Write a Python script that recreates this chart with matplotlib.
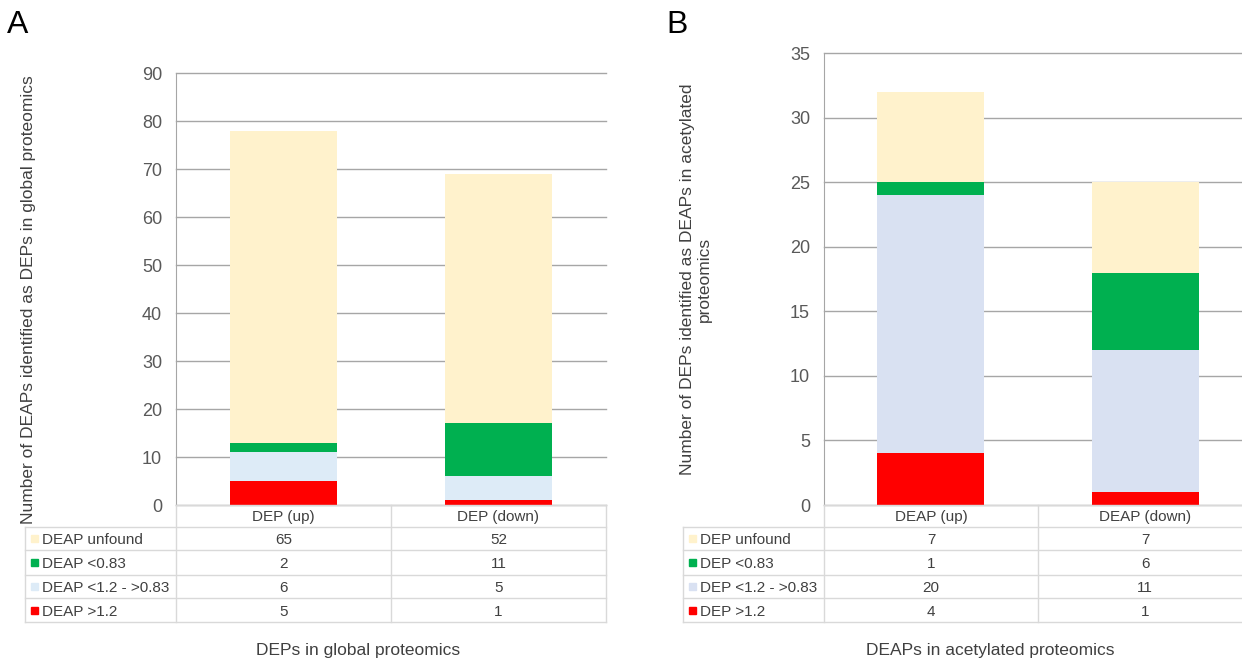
import matplotlib
matplotlib.use("Agg")
import matplotlib.pyplot as plt
from matplotlib.lines import Line2D
from matplotlib.patches import Rectangle
from matplotlib.transforms import blended_transform_factory

plt.rcParams['font.family'] = ['Liberation Sans', 'DejaVu Sans']

W, H = 1242, 658

# panel A: global proteomics
groups_a = ['DEP (up)', 'DEP (down)']
series_a = ['DEAP unfound', 'DEAP <0.83', 'DEAP <1.2 - >0.83', 'DEAP >1.2']
unfound_a = [65, 52]
low_a = [2, 11]
mid_a = [6, 5]
high_a = [5, 1]

# panel B: acetylated proteomics
groups_b = ['DEAP (up)', 'DEAP (down)']
series_b = ['DEP unfound', 'DEP <0.83', 'DEP <1.2 - >0.83', 'DEP >1.2']
unfound_b = [7, 7]
low_b = [1, 6]
mid_b = [20, 11]
high_b = [4, 1]

cream = '#FFF2CC'
green = '#00B050'
red = '#FF0000'

grid_c = '#a6a6a6'
tab_c = '#d9d9d9'
txt_c = '#404040'

fig = plt.figure(figsize=(W / 100, H / 100), dpi=100)


def fx(x):
    return x / W


def fy(y):
    return 1 - y / H


def hline(x0, x1, y, color=tab_c):
    fig.add_artist(Line2D([fx(x0), fx(x1)], [fy(y), fy(y)], color=color, lw=1))


def vline(x, y0, y1, color=tab_c):
    fig.add_artist(Line2D([fx(x), fx(x)], [fy(y0), fy(y1)], color=color, lw=1))


def panel(left, right, top, ymax, step, groups, names, vals, colors,
          tab_left, ylabel, ylab_x, ylab_y, xlabel, xlab_x, letter, letter_x):
    ax = fig.add_axes([fx(left), fy(505), fx(right - left), (505 - top) / H])
    x = range(len(groups))
    # stack from the bottom: >1.2, middle band, <0.83, unfound
    bottom = [0] * len(groups)
    for i in range(len(vals) - 1, -1, -1):
        ax.bar(x, vals[i], 0.5, bottom=bottom, color=colors[i], zorder=3)
        bottom = [b + v for b, v in zip(bottom, vals[i])]
    ax.set_xlim(-0.5, len(groups) - 0.5)
    ax.set_ylim(0, ymax)
    ax.set_yticks(range(0, ymax + 1, step))
    ax.yaxis.grid(True, color=grid_c, lw=1, zorder=0)
    for gl in ax.get_ygridlines():
        gl.set_clip_on(False)
    ax.set_xticks([])
    for s in ['top', 'right', 'bottom']:
        ax.spines[s].set_visible(False)
    ax.spines['left'].set_color(grid_c)
    ax.tick_params(axis='y', length=0, pad=10, labelsize=13, labelcolor='#595959')

    # data table under the bars
    tr = blended_transform_factory(ax.transData, fig.transFigure)
    rows = [505, 527, 550, 575, 598, 622]
    hline(left, right, rows[0])
    for r in rows[1:]:
        hline(tab_left, right, r)
    vline(tab_left, rows[1], rows[-1])
    vline(left, rows[0], rows[-1])
    vline((left + right) / 2, rows[0], rows[-1])
    vline(right, rows[0], rows[-1])
    for j, g in enumerate(groups):
        fig.text(j, fy((rows[0] + rows[1]) / 2 + 5.5), g, transform=tr,
                 ha='center', va='baseline', fontsize=11, color=txt_c)
    for i, name in enumerate(names):
        yc = (rows[i + 1] + rows[i + 2]) / 2
        fig.add_artist(Rectangle((fx(tab_left + 6), fy(yc + 3.5)), fx(7), 7 / H,
                                 color=colors[i]))
        fig.text(fx(tab_left + 17), fy(yc + 5.5), name, ha='left', va='baseline',
                 fontsize=11, color=txt_c)
        for j in range(len(groups)):
            fig.text(j, fy(yc + 5.5), str(vals[i][j]), transform=tr,
                     ha='center', va='baseline', fontsize=11, color=txt_c)

    fig.text(fx(ylab_x), fy(ylab_y), ylabel, rotation=90, ha='center',
             va='center', fontsize=12.5, color=txt_c, multialignment='center')
    fig.text(fx(xlab_x), fy(650), xlabel, ha='center', va='center',
             fontsize=12.5, color=txt_c)
    fig.text(fx(letter_x), fy(25), letter, ha='left', va='center', fontsize=23,
             color='black')


panel(176, 606, 73, 90, 10, groups_a, series_a,
      [unfound_a, low_a, mid_a, high_a], [cream, green, '#DDEBF7', red],
      25, 'Number of DEAPs identified as DEPs in global proteomics', 29, 300,
      'DEPs in global proteomics', 358, 'A', 7)

panel(824, 1252, 53, 35, 5, groups_b, series_b,
      [unfound_b, low_b, mid_b, high_b], [cream, green, '#D9E1F2', red],
      683, 'Number of DEPs identified as DEAPs in acetylated\nproteomics', 696,
      279, 'DEAPs in acetylated proteomics', 990, 'B', 666)

fig.savefig('out.png', dpi=100)
